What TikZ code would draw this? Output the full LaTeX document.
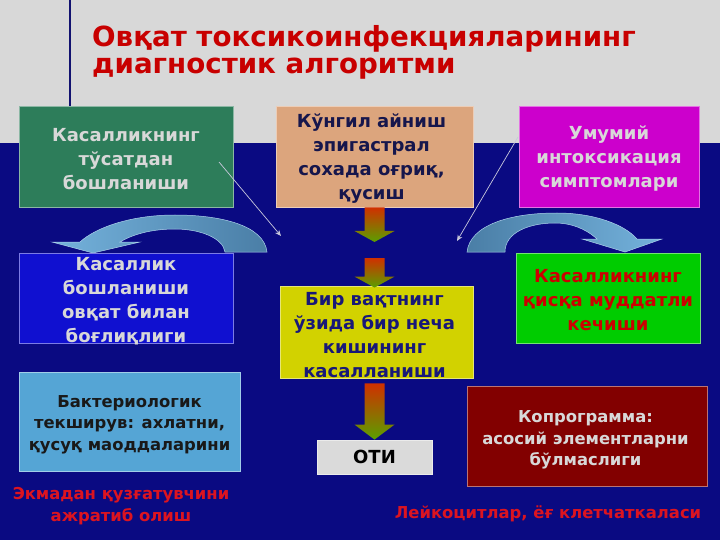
\documentclass[tikz,border=0pt]{standalone}
\usepackage{fontspec}
\setmainfont{DejaVu Sans}
\usetikzlibrary{calc,arrows.meta}
\definecolor{topgray}{HTML}{D8D8D8}
\definecolor{bgnavy}{HTML}{0A0A82}
\definecolor{titlered}{HTML}{C80000}
\definecolor{cgreen}{HTML}{2D7D5A}
\definecolor{ctan}{HTML}{DCA57D}
\definecolor{cmag}{HTML}{CC00CC}
\definecolor{cblue}{HTML}{1010D0}
\definecolor{cyel}{HTML}{D2D200}
\definecolor{cbgreen}{HTML}{00CC00}
\definecolor{clblue}{HTML}{55A5D5}
\definecolor{cgray}{HTML}{DADADA}
\definecolor{cdred}{HTML}{820000}
\definecolor{lighttxt}{HTML}{D8D8D8}
\definecolor{navytxt}{HTML}{16164C}
\definecolor{yeltxt}{HTML}{181878}
\definecolor{redtxt}{HTML}{CC0000}
\definecolor{botred}{HTML}{DC1420}
\definecolor{arrRed}{HTML}{D03000}
\definecolor{arrGreen}{HTML}{5AA000}
\definecolor{curvDark}{HTML}{4A7EA6}
\definecolor{curvLight}{HTML}{74B2DC}
\definecolor{thinarr}{HTML}{C8C8DC}
\tikzset{
  box/.style={draw=#1!55!white, fill=#1, line width=0.8pt, inner sep=0pt},
  boxtxt/.style={inner sep=0pt, align=center, font=\bfseries\fontsize{18}{24}\selectfont},
  smalltxt/.style={inner sep=0pt, align=center, font=\bfseries\fontsize{16.4}{21.5}\selectfont},
  redlabel/.style={text=botred, align=center, inner sep=0pt, font=\bfseries\fontsize{16.4}{21.5}\selectfont},
  titletxt/.style={anchor=base west, inner sep=0pt, text=titlered, font=\bfseries\fontsize{27.7}{28}\selectfont},
  thin arrow/.style={draw=thinarr, line width=0.7pt, -{Stealth[length=6pt,width=5pt]}},
  curved/.style={draw=curvLight!60!white, line width=0.5pt}
}
\newcommand{\gradarr}[3]{%
  \path[top color=arrRed, bottom color=arrGreen]
    ($(#1)+(-10,0)$) -- ($(#1)+(10,0)$) -- ($(#2)+(10,-#3)$) -- ($(#2)+(20,-#3)$)
    -- (#2) -- ($(#2)+(-20,-#3)$) -- ($(#2)+(-10,-#3)$) -- cycle;}
\begin{document}
\begin{tikzpicture}[x=1pt,y=-1pt]
\useasboundingbox (0,0) rectangle (720,540);
% background
\fill[bgnavy] (0,0) rectangle (720,540);
\fill[topgray] (0,0) rectangle (720,143);
\draw[navytxt!80!blue, line width=1.6pt] (70,0) -- (70,106);
% title
\node[titletxt] (title1) at (92,47) {Овқат токсикоинфекцияларининг};
\node[titletxt] (title2) at (92,74) {диагностик алгоритми};
% curved arrows
\path[curved, left color=curvLight, right color=curvDark]
  (267,252) .. controls (264,225) and (220,215) .. (175,215)
  .. controls (130,215) and (95,228) .. (80,242) -- (52,242) -- (93,253) -- (140,242) -- (120,242)
  .. controls (135,233) and (155,229) .. (175,229)
  .. controls (200,229) and (223,238) .. (225,252) -- cycle;
\path[curved, left color=curvDark, right color=curvLight]
  (467,252) .. controls (470,225) and (510,213) .. (557,213)
  .. controls (595,213) and (625,225) .. (637,239) -- (662,239) -- (625,252) -- (582,239) -- (597,239)
  .. controls (585,228) and (570,223) .. (555,223)
  .. controls (530,223) and (505,232) .. (505,252) -- cycle;
% boxes
\node[box=cgreen, minimum width=214pt, minimum height=101pt] (onset) at (126,156.5) {};
\node[boxtxt, text=lighttxt] (onsettxt) at ($(onset)+(0,3)$) {Касалликнинг\\тўсатдан\\бошланиши};
\node[box=ctan, minimum width=197pt, minimum height=101pt] (nausea) at (374.5,156.5) {};
\node[boxtxt, text=navytxt] (nauseatxt) at ($(nausea)+(-3,2)$) {Кўнгил айниш\\эпигастрал\\сохада оғриқ,\\қусиш};
\node[box=cmag, minimum width=180pt, minimum height=101pt] (intox) at (609,156.5) {};
\node[boxtxt, text=lighttxt] (intoxtxt) at ($(intox)+(0,2)$) {Умумий\\интоксикация\\симптомлари};
\node[box=cblue, minimum width=214pt, minimum height=90pt] (food) at (126,298) {};
\node[boxtxt, text=lighttxt] (foodtxt) at ($(food)+(0,3)$) {Касаллик\\бошланиши\\овқат билан\\боғлиқлиги};
\node[box=cbgreen, minimum width=184pt, minimum height=90pt] (short) at (608,298) {};
\node[boxtxt, text=redtxt] (shorttxt) at ($(short)+(0,2)$) {Касалликнинг\\қисқа муддатли\\кечиши};
\coordinate (gap) at (374.5,250);
\coordinate (gaptop) at (374.5,258);
\node[box=cyel, minimum width=193pt, minimum height=92pt] (many) at (376.5,332) {};
\node[boxtxt, text=yeltxt] (manytxt) at ($(many)+(-2,3)$) {Бир вақтнинг\\ўзида бир неча\\кишининг\\касалланиши};
\node[box=clblue, minimum width=221pt, minimum height=99pt] (bact) at (129.5,421.5) {};
\node[smalltxt, text=black!90] (bacttxt) at ($(bact)+(0,3)$) {Бактериологик\\текширув: ахлатни,\\қусуқ маоддаларини};
\node[box=cgray, minimum width=115pt, minimum height=34pt] (oti) at (374.5,457) {};
\node[boxtxt, text=black] (otitxt) at (oti) {ОТИ};
\node[box=cdred, minimum width=240pt, minimum height=100pt] (copro) at (587.5,436) {};
\node[smalltxt, text=lighttxt] (coprotxt) at ($(copro)+(-2,4)$) {Копрограмма:\\асосий элементларни\\бўлмаслиги};
% red labels
\node[redlabel] (isol) at (121,506) {Экмадан қузғатувчини\\ажратиб олиш};
\node[redlabel] (leuk) at (548,514) {Лейкоцитлар, ёғ клетчаткаласи};
% gradient arrows
\coordinate (a1top) at (nausea.south);
\coordinate (a1tip) at (374.5,242);
\gradarr{a1top}{a1tip}{11}
\coordinate (a2tip) at ($(many.north)+(-2,2)$);
\gradarr{gaptop}{a2tip}{11}
\coordinate (a3top) at ($(many.south)+(-2,5)$);
\gradarr{a3top}{oti.north}{15}
% thin arrows
\coordinate (l1) at (219,162);
\coordinate (l2) at (281,236);
\coordinate (r1) at (518,137);
\coordinate (r2) at (457,241);
\draw[thin arrow] (l1) -- (l2);
\draw[thin arrow] (r1) -- (r2);
\end{tikzpicture}
\end{document}
